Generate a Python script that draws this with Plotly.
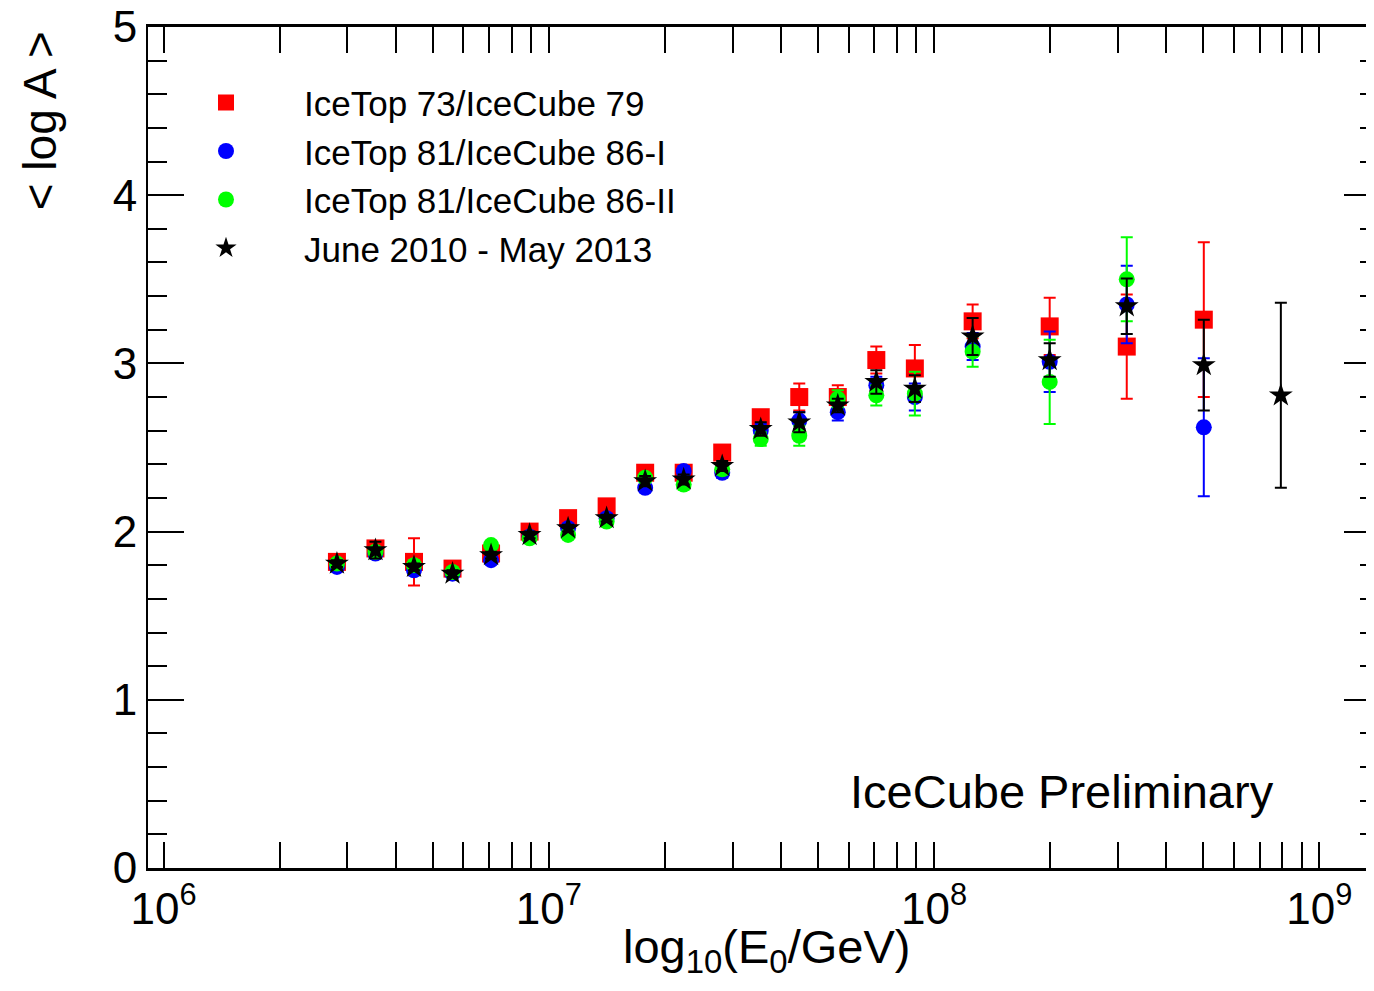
import plotly.graph_objects as go

# log10(E0/GeV) bin centres
log_energy = [6.45, 6.55, 6.65, 6.75, 6.85, 6.95, 7.05, 7.15, 7.25, 7.35, 7.45,
              7.55, 7.65, 7.75, 7.85, 7.95, 8.1, 8.3, 8.5, 8.7, 8.9]
energy = [10 ** v for v in log_energy]

# IceTop 73/IceCube 79 (red squares)
it73 = [1.82, 1.90, 1.82, 1.78, 1.87, 2.00, 2.08, 2.15, 2.35, 2.35, 2.47,
        2.68, 2.80, 2.80, 3.02, 2.97, 3.25, 3.22, 3.10, 3.26, None]
it73_err = [0.03, 0.03, 0.14, 0.03, 0.03, 0.03, 0.03, 0.03, 0.03, 0.03, 0.03,
            0.04, 0.08, 0.07, 0.08, 0.14, 0.10, 0.17, 0.31, 0.46, None]

# IceTop 81/IceCube 86-I (blue circles)
it81 = [1.79, 1.87, 1.77, 1.75, 1.83, 1.97, 2.02, 2.08, 2.26, 2.36, 2.35,
        2.60, 2.66, 2.71, 2.87, 2.80, 3.10, 3.01, 3.35, 2.62, None]
it81_err = [0.02, 0.02, 0.03, 0.02, 0.02, 0.02, 0.02, 0.02, 0.02, 0.03, 0.03,
            0.04, 0.05, 0.05, 0.05, 0.08, 0.08, 0.18, 0.23, 0.41, None]

# IceTop 81/IceCube 86-II (green circles)
it81ii = [1.81, 1.88, 1.80, 1.76, 1.92, 1.96, 1.98, 2.06, 2.32, 2.28, 2.37,
          2.55, 2.57, 2.79, 2.81, 2.82, 3.07, 2.89, 3.50, None, None]
it81ii_err = [0.02, 0.02, 0.03, 0.02, 0.02, 0.02, 0.02, 0.02, 0.02, 0.03, 0.03,
              0.04, 0.06, 0.05, 0.06, 0.13, 0.09, 0.25, 0.25, None, None]

# June 2010 - May 2013 (black stars)
combined = [1.81, 1.89, 1.79, 1.75, 1.86, 1.98, 2.02, 2.08, 2.30, 2.31, 2.39,
            2.61, 2.65, 2.75, 2.89, 2.85, 3.16, 3.02, 3.34, 2.99, 2.81]
combined_err = [0.02, 0.05, 0.02, 0.02, 0.02, 0.02, 0.02, 0.02, 0.03, 0.03, 0.03,
                0.04, 0.06, 0.04, 0.07, 0.08, 0.11, 0.10, 0.165, 0.27, 0.55]

series_names = ["IceTop 73/IceCube 79", "IceTop 81/IceCube 86-I",
                "IceTop 81/IceCube 86-II", "June 2010 - May 2013"]
x_tick_vals = [1e6, 1e7, 1e8, 1e9]
x_tick_text = ["10<sup>6</sup>", "10<sup>7</sup>", "10<sup>8</sup>", "10<sup>9</sup>"]
x_minor_vals = [m * 10 ** d for d in (6, 7, 8) for m in range(2, 10)]
y_tick_vals = [0, 1, 2, 3, 4, 5]

FONT = "Liberation Sans, Arial, Helvetica, sans-serif"

fig = go.Figure()

def add_series(y, err, name, color, symbol, size, yaxis="y"):
    fig.add_trace(go.Scatter(
        x=energy, y=y, name=name, mode="markers", yaxis=yaxis,
        marker=dict(color=color, symbol=symbol, size=size, line=dict(width=0)),
        error_y=dict(type="data", array=err, visible=True, color=color,
                     thickness=2, width=6),
    ))

add_series(it73, it73_err, series_names[0], "#ff0000", "square", 18)
add_series(it81, it81_err, series_names[1], "#0000ff", "circle", 16)
add_series(it81ii, it81ii_err, series_names[2], "#00ff00", "circle", 16)
add_series(combined, combined_err, series_names[3], "#000000", "star", 18, yaxis="y2")

fig.update_layout(
    width=1358, height=975,
    margin=dict(l=140, r=0, t=19, b=115, autoexpand=False),
    paper_bgcolor="white", plot_bgcolor="white",
    font=dict(family=FONT, color="black"),
    showlegend=True,
    legend=dict(x=0.0, y=0.945, xanchor="left", yanchor="top",
                bgcolor="rgba(0,0,0,0)", font=dict(size=35, family=FONT),
                itemwidth=146, itemsizing="trace"),
    xaxis=dict(
        type="log", range=[5.9596, 9.121], automargin=False,
        tickvals=x_tick_vals, ticktext=x_tick_text,
        ticks="inside", ticklen=26, tickwidth=2, tickcolor="black",
        showline=True, linewidth=3, linecolor="black", mirror="allticks",
        showgrid=False, zeroline=False, ticklabeloverflow="allow",
        tickfont=dict(size=44, family=FONT),
        minor=dict(tickvals=x_minor_vals, ticks="inside", ticklen=13,
                   tickwidth=2, tickcolor="black", showgrid=False),
    ),
    yaxis=dict(
        range=[0, 5], tickvals=y_tick_vals, automargin=False,
        ticks="inside", ticklen=36, tickwidth=2, tickcolor="black",
        showline=True, linewidth=2, linecolor="black", mirror=False,
        showgrid=False, zeroline=False, ticklabeloverflow="allow",
        tickfont=dict(size=44, family=FONT),
        minor=dict(dtick=0.2, tick0=0, ticks="inside", ticklen=19,
                   tickwidth=2, tickcolor="black", showgrid=False),
    ),
    yaxis2=dict(
        range=[0, 5], overlaying="y", side="right", anchor="x", automargin=False,
        tickvals=y_tick_vals, showticklabels=False,
        ticks="inside", ticklen=22, tickwidth=2, tickcolor="black",
        showline=False, showgrid=False, zeroline=False,
        minor=dict(dtick=0.2, tick0=0, ticks="inside", ticklen=6,
                   tickwidth=2, tickcolor="black", showgrid=False),
    ),
)

fig.add_annotation(
    text="log<sub>10</sub>(E<sub>0</sub>/GeV)", xref="paper", yref="paper",
    x=0.508, y=-0.097, xanchor="center", yanchor="middle", showarrow=False,
    font=dict(size=47, family=FONT),
)
fig.add_annotation(
    text="< log A >", xref="paper", yref="paper", textangle=-90,
    x=-0.0887, y=0.889, xanchor="center", yanchor="middle", showarrow=False,
    font=dict(size=46, family=FONT),
)
fig.add_annotation(
    text="IceCube Preliminary", xref="paper", yref="paper",
    x=0.7504, y=0.0907, xanchor="center", yanchor="middle", showarrow=False,
    font=dict(size=47, family=FONT),
)

fig.write_html("out.html")
